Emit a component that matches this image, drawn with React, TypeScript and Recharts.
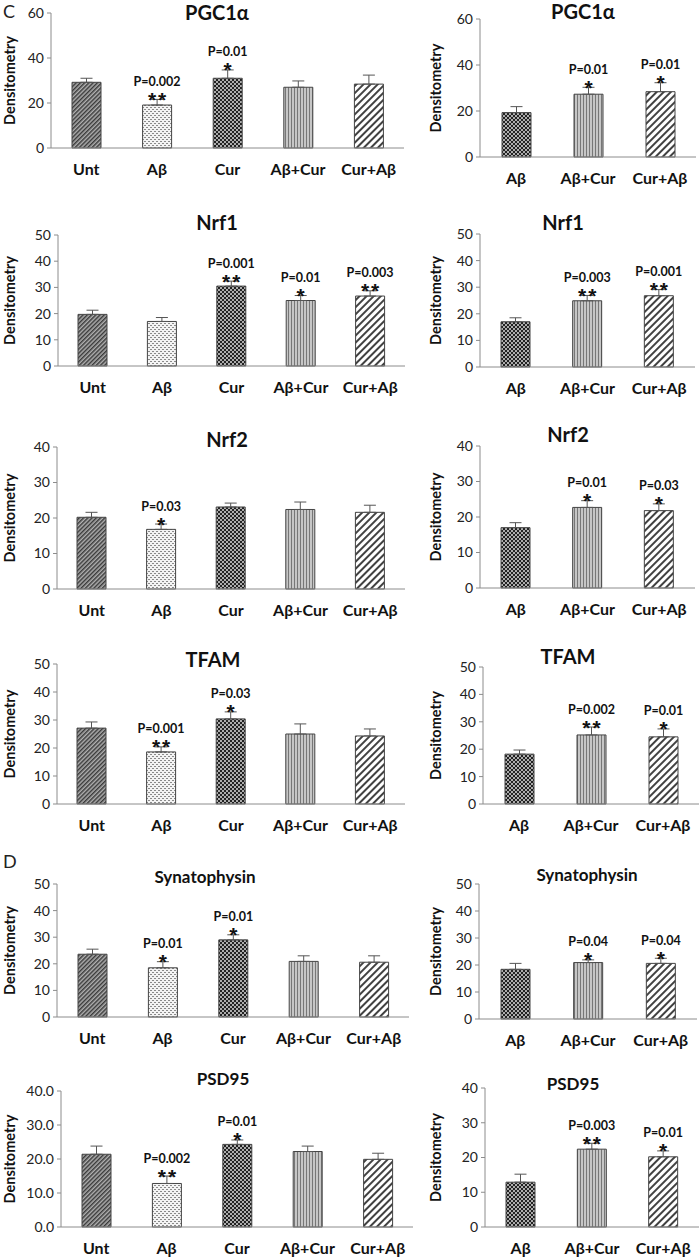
import React from "react";
import { BarChart, Bar, XAxis, YAxis, Cell, ErrorBar, LabelList } from "recharts";

const leftGroups = ["Unt", "Aβ", "Cur", "Aβ+Cur", "Cur+Aβ"];
const rightGroups = ["Aβ", "Aβ+Cur", "Cur+Aβ"];

// PGC1α
const pgcLeftMeans = [29.2, 19.1, 31.0, 27.0, 28.4];
const pgcLeftErrs = [1.8, 2.5, 3.7, 2.8, 4.0];
const pgcLeftP = ["", "P=0.002", "P=0.01", "", ""];
const pgcLeftStars = ["", "**", "*", "", ""];
const pgcRightMeans = [19.3, 27.3, 28.4];
const pgcRightErrs = [2.6, 3.0, 3.9];
const pgcRightP = ["", "P=0.01", "P=0.01"];
const pgcRightStars = ["", "*", "*"];

// Nrf1
const nrf1LeftMeans = [19.7, 17.0, 30.5, 25.0, 26.7];
const nrf1LeftErrs = [1.6, 1.5, 1.9, 1.9, 2.0];
const nrf1LeftP = ["", "", "P=0.001", "P=0.01", "P=0.003"];
const nrf1LeftStars = ["", "", "**", "*", "**"];
const nrf1RightMeans = [17.0, 24.9, 26.8];
const nrf1RightErrs = [1.5, 2.0, 2.3];
const nrf1RightP = ["", "P=0.003", "P=0.001"];
const nrf1RightStars = ["", "**", "**"];

// Nrf2
const nrf2LeftMeans = [20.2, 16.8, 23.1, 22.4, 21.6];
const nrf2LeftErrs = [1.4, 1.5, 1.1, 2.1, 2.0];
const nrf2LeftP = ["", "P=0.03", "", "", ""];
const nrf2LeftStars = ["", "*", "", "", ""];
const nrf2RightMeans = [17.0, 22.7, 21.8];
const nrf2RightErrs = [1.4, 1.9, 1.9];
const nrf2RightP = ["", "P=0.01", "P=0.03"];
const nrf2RightStars = ["", "*", "*"];

// TFAM
const tfamLeftMeans = [27.1, 18.6, 30.4, 25.0, 24.3];
const tfamLeftErrs = [2.2, 1.8, 2.5, 3.6, 2.5];
const tfamLeftP = ["", "P=0.001", "P=0.03", "", ""];
const tfamLeftStars = ["", "**", "*", "", ""];
const tfamRightMeans = [18.2, 25.2, 24.5];
const tfamRightErrs = [1.5, 2.9, 2.9];
const tfamRightP = ["", "P=0.002", "P=0.01"];
const tfamRightStars = ["", "**", "*"];

// Synatophysin
const synLeftMeans = [23.6, 18.5, 29.0, 20.9, 20.6];
const synLeftErrs = [1.9, 2.3, 1.9, 2.1, 2.4];
const synLeftP = ["", "P=0.01", "P=0.01", "", ""];
const synLeftStars = ["", "*", "*", "", ""];
const synRightMeans = [18.4, 20.9, 20.6];
const synRightErrs = [2.2, 1.0, 1.9];
const synRightP = ["", "P=0.04", "P=0.04"];
const synRightStars = ["", "*", "*"];

// PSD95
const psdLeftMeans = [21.4, 12.8, 24.3, 22.2, 19.9];
const psdLeftErrs = [2.4, 2.2, 1.3, 1.6, 1.8];
const psdLeftP = ["", "P=0.002", "P=0.01", "", ""];
const psdLeftStars = ["", "**", "*", "", ""];
const psdRightMeans = [12.9, 22.4, 20.2];
const psdRightErrs = [2.3, 1.7, 1.7];
const psdRightP = ["", "P=0.003", "P=0.01"];
const psdRightStars = ["", "**", "*"];

const ticks60 = [0, 20, 40, 60];
const ticks50 = [0, 10, 20, 30, 40, 50];
const ticks40 = [0, 10, 20, 30, 40];

const leftFills = ["hatch", "light", "dots", "vert", "wide"];
const rightFills = ["dots", "vert", "wide"];

const FONT = "Lato, 'Open Sans', sans-serif";

const L = { left: 0, width: 415, labelX: 10 };
const R = { left: 415, width: 285, labelX: 436 };

const panels = [
  { id: "pgcL", title: "PGC1α", tSize: 20, groups: leftGroups, means: pgcLeftMeans, errs: pgcLeftErrs, p: pgcLeftP, stars: pgcLeftStars, ticks: ticks60, fills: leftFills, ...L, axisX: 51, plotTop: 13, plotBottom: 148, plotRight: 404, titleX: 217, titleY: 13 },
  { id: "pgcR", title: "PGC1α", tSize: 20, groups: rightGroups, means: pgcRightMeans, errs: pgcRightErrs, p: pgcRightP, stars: pgcRightStars, ticks: ticks60, fills: rightFills, ...R, axisX: 480, plotTop: 19, plotBottom: 157, plotRight: 696, titleX: 583, titleY: 12 },
  { id: "nrf1L", title: "Nrf1", tSize: 20, groups: leftGroups, means: nrf1LeftMeans, errs: nrf1LeftErrs, p: nrf1LeftP, stars: nrf1LeftStars, ticks: ticks50, fills: leftFills, ...L, axisX: 58, plotTop: 235, plotBottom: 366, plotRight: 405, titleX: 217, titleY: 223 },
  { id: "nrf1R", title: "Nrf1", tSize: 20, groups: rightGroups, means: nrf1RightMeans, errs: nrf1RightErrs, p: nrf1RightP, stars: nrf1RightStars, ticks: ticks50, fills: rightFills, ...R, axisX: 480, plotTop: 234, plotBottom: 367, plotRight: 695, titleX: 563, titleY: 223 },
  { id: "nrf2L", title: "Nrf2", tSize: 20, groups: leftGroups, means: nrf2LeftMeans, errs: nrf2LeftErrs, p: nrf2LeftP, stars: nrf2LeftStars, ticks: ticks40, fills: leftFills, ...L, axisX: 57, plotTop: 447, plotBottom: 589, plotRight: 405, titleX: 227, titleY: 440 },
  { id: "nrf2R", title: "Nrf2", tSize: 20, groups: rightGroups, means: nrf2RightMeans, errs: nrf2RightErrs, p: nrf2RightP, stars: nrf2RightStars, ticks: ticks40, fills: rightFills, ...R, axisX: 480, plotTop: 446, plotBottom: 588, plotRight: 695, titleX: 568, titleY: 435 },
  { id: "tfamL", title: "TFAM", tSize: 20, groups: leftGroups, means: tfamLeftMeans, errs: tfamLeftErrs, p: tfamLeftP, stars: tfamLeftStars, ticks: ticks50, fills: leftFills, ...L, axisX: 57, plotTop: 664, plotBottom: 804, plotRight: 405, titleX: 213, titleY: 660 },
  { id: "tfamR", title: "TFAM", tSize: 20, groups: rightGroups, means: tfamRightMeans, errs: tfamRightErrs, p: tfamRightP, stars: tfamRightStars, ticks: ticks50, fills: rightFills, ...R, axisX: 483, plotTop: 667, plotBottom: 804, plotRight: 699, titleX: 568, titleY: 657 },
  { id: "synL", title: "Synatophysin", tSize: 17, groups: leftGroups, means: synLeftMeans, errs: synLeftErrs, p: synLeftP, stars: synLeftStars, ticks: ticks50, fills: leftFills, ...L, axisX: 57, plotTop: 884, plotBottom: 1017, plotRight: 409, titleX: 205, titleY: 877 },
  { id: "synR", title: "Synatophysin", tSize: 17, groups: rightGroups, means: synRightMeans, errs: synRightErrs, p: synRightP, stars: synRightStars, ticks: ticks50, fills: rightFills, ...R, axisX: 479, plotTop: 884, plotBottom: 1019, plotRight: 697, titleX: 587, titleY: 875 },
  { id: "psdL", title: "PSD95", tSize: 17, groups: leftGroups, means: psdLeftMeans, errs: psdLeftErrs, p: psdLeftP, stars: psdLeftStars, ticks: ticks40, fills: leftFills, ...L, axisX: 61, plotTop: 1091, plotBottom: 1227, plotRight: 413, titleX: 223, titleY: 1079, decimals: 1 },
  { id: "psdR", title: "PSD95", tSize: 17, groups: rightGroups, means: psdRightMeans, errs: psdRightErrs, p: psdRightP, stars: psdRightStars, ticks: ticks40, fills: rightFills, ...R, axisX: 485, plotTop: 1088, plotBottom: 1227, plotRight: 699, titleX: 573, titleY: 1084 },
];

const Patterns = ({ id }: { id: string }) => (
  <defs>
    <pattern id={`${id}-hatch`} width="3" height="3" patternUnits="userSpaceOnUse" patternTransform="rotate(45)">
      <rect width="3" height="3" fill="#b0b0b0" />
      <line x1="0.75" y1="0" x2="0.75" y2="3" stroke="#333" strokeWidth="1.4" />
    </pattern>
    <pattern id={`${id}-light`} width="4" height="4" patternUnits="userSpaceOnUse">
      <rect width="4" height="4" fill="#f4f4f4" />
      <rect x="0" y="0" width="2" height="1" fill="#8a8a8a" />
      <rect x="2" y="2" width="2" height="1" fill="#8a8a8a" />
    </pattern>
    <pattern id={`${id}-dots`} width="4" height="4" patternUnits="userSpaceOnUse">
      <rect width="4" height="4" fill="#222" />
      <circle cx="1" cy="1" r="0.95" fill="#e8e8e8" />
      <circle cx="3" cy="3" r="0.95" fill="#e8e8e8" />
    </pattern>
    <pattern id={`${id}-vert`} width="3" height="3" patternUnits="userSpaceOnUse">
      <rect width="3" height="3" fill="#c6c6c6" />
      <line x1="0.5" y1="0" x2="0.5" y2="3" stroke="#777" strokeWidth="1" />
    </pattern>
    <pattern id={`${id}-wide`} width="5" height="5" patternUnits="userSpaceOnUse" patternTransform="rotate(45)">
      <rect width="5" height="5" fill="#fff" />
      <line x1="1" y1="0" x2="1" y2="5" stroke="#111" strokeWidth="1.6" />
    </pattern>
  </defs>
);

// stars sit just above the error bar, P value above the stars
const renderMark = (rows: any[]) => (props: any) => {
  const { x, y, width, height, index } = props;
  const row = rows[index];
  if (!row || !row.stars) return null;
  const top = y - (row.err[1] * height) / row.value;
  const cx = x + width / 2;
  return (
    <g>
      <text x={cx + 1} y={top + 7.5} textAnchor="middle" fontFamily="'Liberation Sans', Arial, sans-serif" fontWeight="bold" fontSize={21} letterSpacing={2} fill="#111">
        {row.stars}
      </text>
      <text x={cx} y={top - 13.5} textAnchor="middle" fontSize={12.5} fontWeight="bold" fill="#111">
        {row.p}
      </text>
    </g>
  );
};

const Panel = ({ cfg }: { cfg: any }) => {
  const rows = cfg.groups.map((g: string, i: number) => ({
    name: g,
    value: cfg.means[i],
    err: [0, cfg.errs[i]],
    p: cfg.p[i],
    stars: cfg.stars[i],
  }));
  const pad = 12;
  const boxTop = cfg.plotTop - pad;
  const height = cfg.plotBottom - cfg.plotTop + pad + 48;
  const yMax = cfg.ticks[cfg.ticks.length - 1];
  return (
    <div style={{ position: "absolute", left: cfg.left, top: boxTop, width: cfg.width, height }}>
      <BarChart
        width={cfg.width}
        height={height}
        data={rows}
        margin={{ top: pad, right: cfg.left + cfg.width - cfg.plotRight, bottom: 8, left: 0 }}
        barSize={29}
      >
        <Patterns id={cfg.id} />
        <XAxis
          dataKey="name"
          height={40}
          stroke="#8c8c8c"
          tickLine={false}
          tickSize={6}
          tickMargin={10}
          interval={0}
          tick={{ fontSize: 16, fontWeight: "bold", fill: "#111" }}
        />
        <YAxis
          width={cfg.axisX - cfg.left}
          domain={[0, yMax]}
          ticks={cfg.ticks}
          interval={0}
          stroke="#8c8c8c"
          tickSize={4}
          tickMargin={3}
          tick={{ fontSize: 14, fill: "#222" }}
          tickFormatter={(v: number) => (cfg.decimals ? v.toFixed(cfg.decimals) : String(v))}
          label={{
            value: "Densitometry",
            angle: -90,
            position: "insideLeft",
            offset: cfg.labelX - cfg.left,
            style: { textAnchor: "middle", fontSize: 14.5, fontWeight: "bold", fill: "#111" },
          }}
        />
        <Bar dataKey="value" stroke="#444" strokeWidth={1} isAnimationActive={false}>
          {rows.map((r: any, i: number) => (
            <Cell key={r.name} fill={`url(#${cfg.id}-${cfg.fills[i]})`} />
          ))}
          <ErrorBar dataKey="err" direction="y" width={6} stroke="#555" strokeWidth={1} />
          <LabelList dataKey="value" content={renderMark(rows)} />
        </Bar>
      </BarChart>
      <div
        style={{
          position: "absolute",
          left: cfg.titleX - cfg.left - 120,
          top: cfg.titleY - boxTop - cfg.tSize * 0.53,
          width: 240,
          textAlign: "center",
          fontSize: cfg.tSize,
          lineHeight: `${cfg.tSize}px`,
          fontWeight: "bold",
          color: "#111",
        }}
      >
        {cfg.title}
      </div>
    </div>
  );
};

export default function App() {
  return (
    <div style={{ position: "absolute", left: 0, top: 0, width: 700, height: 1257, background: "#fff", fontFamily: FONT }}>
      <div style={{ position: "absolute", left: 3, top: 2, fontSize: 18, lineHeight: "18px", color: "#222" }}>C</div>
      <div style={{ position: "absolute", left: 3, top: 852, fontSize: 18, lineHeight: "18px", color: "#222" }}>D</div>
      {panels.map((cfg) => (
        <Panel key={cfg.id} cfg={cfg} />
      ))}
    </div>
  );
}
